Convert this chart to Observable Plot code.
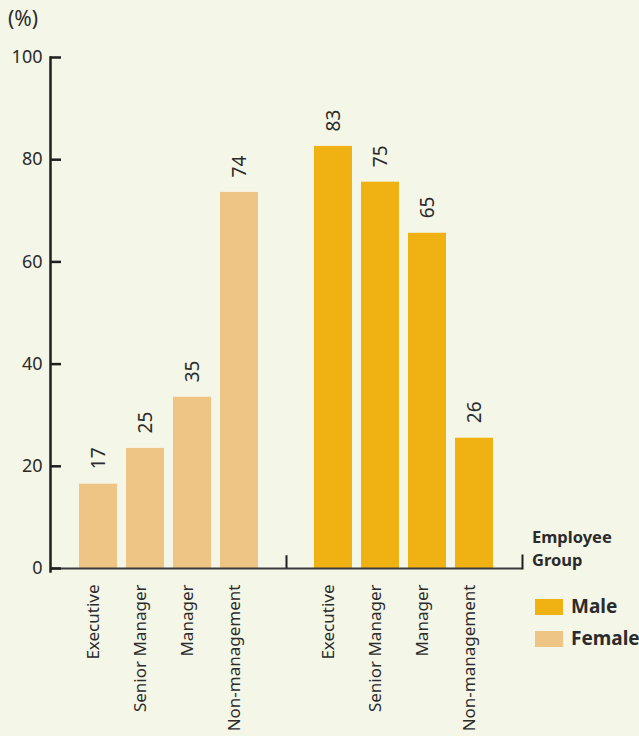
<!DOCTYPE html>
<html>
<head>
<meta charset="utf-8">
<script src="https://cdn.jsdelivr.net/npm/d3@7"></script>
<script src="https://cdn.jsdelivr.net/npm/@observablehq/plot@0.6"></script>
<style>
  html, body { margin: 0; padding: 0; background: #f4f6e7; }
  body { font-family: "Noto Sans", sans-serif; color: #2b2b2b; }
  #wrap { position: relative; width: 639px; height: 736px; overflow: hidden; background: #f4f6e7; }
  #wrap svg { position: absolute; left: 0; top: 0; }
  .ov { position: absolute; white-space: nowrap; color: #2b2b2b; }
  .unit { left: 8px; top: 8px; font-size: 21px; line-height: 21px; }
  .xtitle { left: 532px; top: 525px; font-size: 16.5px; line-height: 23px; font-weight: bold; }
  .sw { position: absolute; width: 28px; height: 16px; }
  .lg { font-size: 19px; line-height: 19px; font-weight: bold; }
</style>
</head>
<body>
<div id="wrap"></div>
<script>
// ---- data ----
const groups = ["Executive", "Senior Manager", "Manager", "Non-management"];
const femaleValues = [16.5, 23.5, 33.5, 73.6];
const femaleLabels = ["17", "25", "35", "74"];
const maleValues = [82.6, 75.6, 65.6, 25.5];
const maleLabels = ["83", "75", "65", "26"];
const series = ["Male", "Female"];
const seriesColors = ["#f0b112", "#efc585"];
const yTicks = [0, 20, 40, 60, 80, 100];
const yUnit = "(%)";
const xTitle = ["Employee", "Group"];

// ---- table ----
const rows = [];
groups.forEach((g, i) => rows.push({key: "F " + g, group: g, sex: "Female", value: femaleValues[i], label: femaleLabels[i]}));
groups.forEach((g, i) => rows.push({key: "M " + g, group: g, sex: "Male", value: maleValues[i], label: maleLabels[i]}));
const gapKey = "gap";
const xDomain = [...groups.map(g => "F " + g), gapKey, ...groups.map(g => "M " + g)];

const ink = "#2b2b2b";

const chart = Plot.plot({
  width: 639,
  height: 736,
  marginTop: 57,
  marginBottom: 168,
  marginLeft: 50,
  marginRight: 117,
  style: {background: "transparent", fontFamily: "'Noto Sans', sans-serif", color: ink},
  x: {domain: xDomain, paddingInner: 0.2, paddingOuter: 0.6, axis: null},
  y: {domain: [0, 100], axis: null, label: null},
  color: {domain: series, range: seriesColors},
  marks: [
    Plot.barY(rows, {x: "key", y: "value", fill: "sex"}),
    Plot.ruleY([0], {stroke: "#3a3a3a", strokeWidth: 2}),
    Plot.frame({anchor: "left", stroke: "#1f1f1f", strokeWidth: 2.5, insetBottom: -3}),
    Plot.frame({anchor: "right", stroke: "#1f1f1f", strokeWidth: 2, insetTop: 498}),
    Plot.ruleX([gapKey], {y1: 0, y2: 2.5, stroke: "#1f1f1f", strokeWidth: 2}),
    Plot.axisY({ticks: yTicks, tickSize: 11, dx: 11, fill: "none", stroke: "#1f1f1f", strokeWidth: 2.5, label: null}),
    Plot.axisY({ticks: yTicks, tickSize: 0, tickPadding: 8, fontSize: 18, fill: ink, label: null}),
    Plot.text(rows, {x: "key", y: "value", text: "label", rotate: -90, textAnchor: "start", dy: -15, fontSize: 19, fill: ink}),
    Plot.text(rows, {x: "key", frameAnchor: "bottom", text: "group", rotate: -90, textAnchor: "end", dy: 16, fontSize: 17, fill: ink})
  ]
});

const wrap = document.getElementById("wrap");
wrap.appendChild(chart);

function addDiv(cls, html, style) {
  const d = document.createElement("div");
  d.className = cls;
  d.innerHTML = html;
  if (style) Object.assign(d.style, style);
  wrap.appendChild(d);
  return d;
}
addDiv("ov unit", yUnit);
addDiv("ov xtitle", xTitle.join("<br>"));
series.forEach((s, i) => {
  addDiv("sw", "", {left: "535px", top: (599 + 32 * i) + "px", background: seriesColors[i]});
  addDiv("ov lg", s, {left: "571px", top: (597 + 32 * i) + "px"});
});
</script>
</body>
</html>
